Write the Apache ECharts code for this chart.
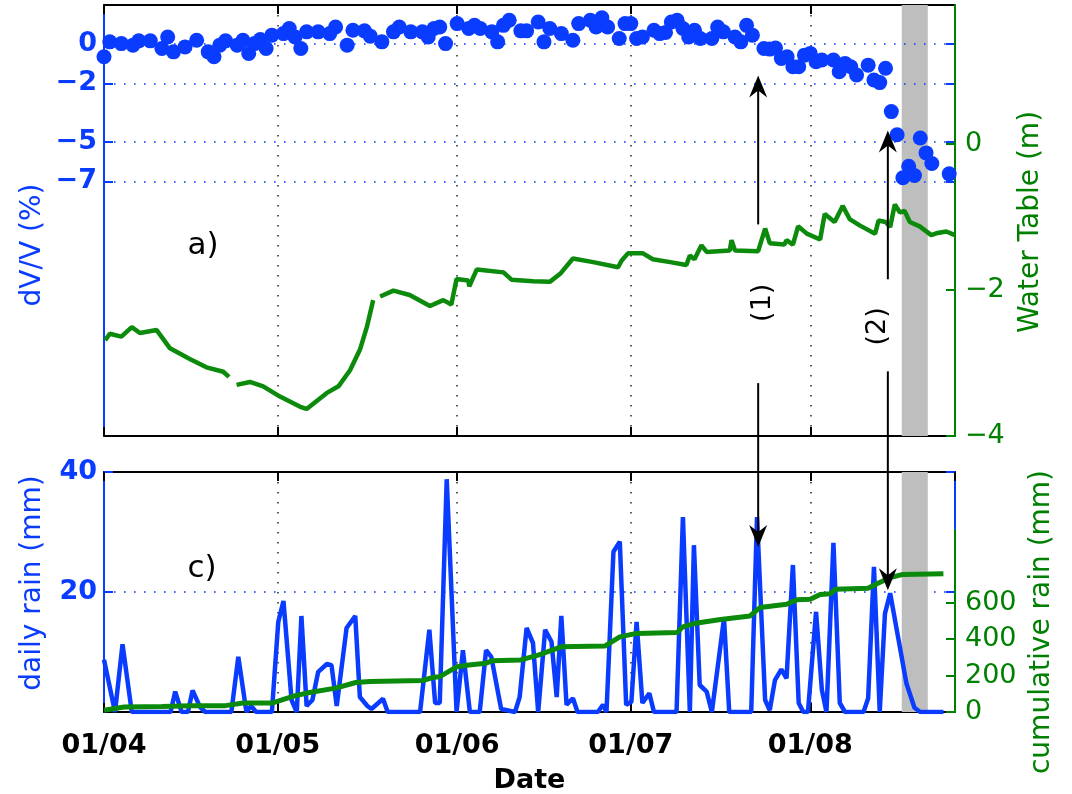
<!DOCTYPE html>
<html>
<head>
<meta charset="utf-8">
<script src="https://cdn.jsdelivr.net/npm/echarts@6/dist/echarts.min.js"></script>
<style>
  html, body { margin: 0; padding: 0; background: #fff; }
  #chart { width: 1072px; height: 794px; }
</style>
</head>
<body>
<div id="chart"></div>
<script>
// Days are counted from 1 April (day 0); the time axis runs 1 April – 26 August.
const START = Date.UTC(2013, 3, 1);
const DAY_MS = 86400000;
const X_RANGE = [0, 147];

// Axis ticks
const dvvTicks = [0, -2, -5, -7];
const dvvRange = [-20, 2];
const waterTicks = [-4, -2, 0];
const waterRange = [-4, 1.9];
const rainTicks = [20, 40];
const cumTicks = [0, 200, 400, 600];

// Grey band (days)
const bandSpan = [137.8, 142.3];

// dV/V (%) — [day, value]
const dvvPoints = [
  [0, -0.64], [1, 0.12], [3, 0.03], [5, -0.05], [6, 0.17], [8, 0.17], [10, -0.22], [11, 0.37],
  [12, -0.39], [14, -0.14], [16, 0.2], [18, -0.39], [19, -0.64], [20, -0.05], [21, 0.17],
  [23, -0.05], [24, 0.2], [25, -0.47], [26, 0.03], [27, 0.24], [28, -0.22], [29, 0.46],
  [31, 0.54], [32, 0.8], [33, 0.37], [34, -0.22], [35, 0.63], [37, 0.63], [39, 0.54], [40, 0.88],
  [42, -0.05], [43, 0.71], [45, 0.68], [46, 0.41], [48, 0.12], [50, 0.63], [51, 0.88], [53, 0.63],
  [55, 0.63], [56, 0.37], [57, 0.8], [58, 0.88], [59, 0.03], [61, 1.05], [63, 0.8], [64, 0.96],
  [65, 0.8], [67, 0.63], [68, 0.12], [69, 0.96], [70, 1.22], [72, 0.68], [73, 0.68], [75, 1.13],
  [76, 0.12], [77, 0.8], [79, 0.54], [81, 0.2], [82, 1.05], [84, 1.22], [85, 0.88], [86, 1.35],
  [87, 0.88], [89, 0.29], [90, 1.05], [91, 1.05], [92, 0.29], [93, 0.37], [95, 0.71], [96, 0.54],
  [97, 0.6], [98, 1.13], [99, 1.22], [100, 0.8], [101, 0.37], [102, 0.71], [103, 0.29], [105, 0.29],
  [106, 0.88], [107, 0.63], [109, 0.37], [110, 0.12], [111, 0.96], [112, 0.46], [114, -0.22],
  [115, -0.25], [116, -0.2], [117, -0.73], [118, -0.64], [119, -1.15], [120, -1.15], [121, -0.56],
  [122, -0.47], [123, -0.9], [124, -0.81], [126, -0.81], [127, -1.41], [128, -0.98], [129, -1.15],
  [130, -1.57], [132, -1.07], [133, -1.83], [134, -1.96], [135, -1.23], [136, -3.44], [137, -4.62],
  [138, -6.82], [139, -6.23], [140, -6.7], [141, -4.79], [142, -5.55], [143, -6.09], [146, -6.62]
];

// Water table (m) — [day, value]; null marks a gap in the record
const waterPoints = [
  [0.2, -2.69], [1, -2.6], [3, -2.64], [4.8, -2.51], [6.2, -2.59], [9.1, -2.55], [11.4, -2.8],
  [14.9, -2.95], [17.7, -3.06], [20.6, -3.12], [21.6, -3.19], [22.2, null], [22.9, -3.3],
  [25.2, -3.26], [27.5, -3.32], [30.4, -3.46], [33.9, -3.6], [35, -3.63], [38.5, -3.41],
  [40.5, -3.32], [42.5, -3.1], [44.2, -2.82], [45.4, -2.51], [46.5, -2.14], [47.1, null],
  [47.7, -2.09], [50, -2.01], [52.8, -2.07], [56.3, -2.22], [58.6, -2.14], [60, -2.2],
  [60.9, -1.85], [62.9, -1.87], [63.1, -1.95], [64.4, -1.72], [69, -1.76], [70.4, -1.86],
  [74.1, -1.88], [77, -1.89], [78.8, -1.78], [81, -1.57], [84.5, -1.62], [88.8, -1.69],
  [89.4, -1.6], [90.5, -1.5], [93.1, -1.5], [94.8, -1.58], [97.8, -1.62], [100.6, -1.66],
  [101.2, -1.53], [102, -1.58], [103.2, -1.39], [104.1, -1.48], [108.1, -1.46], [108.4, -1.32],
  [109, -1.46], [113, -1.47], [114.2, -1.16], [115, -1.36], [117.5, -1.38], [117.9, -1.32],
  [119, -1.38], [119.9, -1.13], [121.4, -1.23], [123.7, -1.31], [124.5, -0.96], [126.2, -1.07],
  [127.6, -0.85], [128.8, -1.03], [130.6, -1.12], [133.2, -1.23], [133.8, -1.05], [135, -1.07],
  [135.8, -1.14], [136.6, -0.83], [137.5, -0.94], [138.3, -0.92], [139.2, -1.07], [140.9, -1.13],
  [142.9, -1.25], [144, -1.22], [145.5, -1.2], [147, -1.25]
];

// Daily rain (mm) — [day, value]
const rainPoints = [
  [0, 8.7], [1.9, 0], [3.2, 11.3], [4.8, 0], [11.5, 0], [12.3, 3.4], [13.4, 0], [14.5, 0],
  [15.3, 3.6], [16.6, 0.8], [17.5, 0], [22, 0], [23.2, 9.2], [24.6, 0], [25.4, 1], [26.3, 0],
  [29, 0], [30.1, 15], [31, 18.5], [32.4, 2], [33.3, 0], [34.1, 16], [35, 1], [36, 2], [37, 6.7],
  [38.5, 8], [39.3, 7.8], [40.2, 1], [41.9, 14], [43.4, 16], [44.2, 2.5], [45.5, 1], [46.2, 0.5],
  [48.2, 2.2], [49, 0], [54.6, 0], [56.2, 13.7], [57.2, 1.5], [58, 1.5], [59.2, 38.8], [60.9, 0],
  [62, 10.3], [63.2, 0], [64.9, 0], [66, 10.3], [66.9, 9.2], [68.6, 0.5], [71, 0], [71.8, 2.5],
  [73, 14], [74.1, 11.5], [75, 0], [76.2, 13.7], [77.3, 11.7], [78.2, 2.5], [79, 16], [79.9, 1.2],
  [81, 2.3], [81.8, 0], [85.3, 0], [86.2, 1.2], [86.8, 0], [88, 26.7], [89.1, 28.4], [90.2, 1.2],
  [91.1, 1.7], [92, 15], [93, 1.5], [94.2, 3.1], [95, 0], [98.9, 0], [100, 32.5], [101.2, 0],
  [101.9, 27.8], [102.9, 4.5], [104.1, 3.4], [105, 0], [107.1, 15.6], [108, 0], [111.8, 0],
  [112.8, 32.5], [114.2, 2], [115, 0.3], [115.9, 5.3], [117, 7.1], [117.9, 5.6], [119, 24.5],
  [120, 1.5], [120.8, 0], [121.6, 0], [123, 16.7], [124, 3.7], [124.8, 0], [126, 28.2],
  [127.1, 1.5], [128, 0], [131.2, 0], [132, 2.3], [133, 24.2], [134, 0], [134.9, 16.4],
  [135.8, 19.8], [137.2, 12.3], [138.6, 4.8], [140, 0.7], [141, 0], [145, 0]
];

// Cumulative rain (mm) — [day, value]
const cumPoints = [
  [0, 10], [3.5, 27], [10, 30], [15, 34], [21, 35], [24, 49], [29, 49], [32.5, 85], [35, 104],
  [40, 131], [43.5, 162], [46, 167], [55, 173], [57, 191], [58, 194], [61, 249], [63, 258],
  [66, 268], [67, 282], [72, 286], [75, 313], [79, 358], [86.5, 362], [89.1, 413], [92, 432],
  [99, 437], [100, 468], [101.9, 486], [106.5, 508], [111.6, 528], [113.3, 574], [117.9, 592],
  [119.7, 617], [122, 619], [123.7, 645], [125.5, 650], [126.3, 674], [132, 680], [133.5, 705],
  [135.8, 738], [138, 756], [145, 760]
];

// Annotated events: arrow day, upper arrow (dV/V from → tip), lower arrow (dV/V start → rain tip)
const arrowDays = [113, 135.4];
const arrowLabels = ['(1)', '(2)'];
const arrowLabelDays = [113.9, 133.7];
const arrowLabelDvv = [-13.2, -14.4];
const arrowUp = [[-9.2, -1.6], [-12.0, -4.4]];
const arrowDown = [[-17.3, 27.5], [-16.7, 20.3]];

const BLUE = '#0a3cff';
const GREEN = '#008000';
const LINE_GREEN = '#0b8a0b';
const FONT = 'DejaVu Sans';

const toTime = d => START + d * DAY_MS;
const toSeries = pts => pts.map(p => [toTime(p[0]), p[1] === null ? '-' : p[1]]);
const minus = v => String(v).replace('-', '\u2212');
const pad = n => (n < 10 ? '0' : '') + n;

const GRID_LEFT = 104, GRID_RIGHT = 117;

function timeAxis(gridIndex, position, extra) {
  return Object.assign({
    type: 'time', gridIndex: gridIndex, position: position,
    min: toTime(X_RANGE[0]), max: toTime(X_RANGE[1]), splitNumber: 5,
    axisLine: { show: true, onZero: false, lineStyle: { color: '#000', width: 2 } },
    axisTick: { show: true, inside: true, length: 9, lineStyle: { color: '#000', width: 2 } },
    axisLabel: { show: false },
    splitLine: { show: false }
  }, extra || {});
}

const dottedV = { show: true, lineStyle: { color: '#333', width: 1.6, type: [1.6, 8.4] } };

const chart = echarts.init(document.getElementById('chart'), null, { renderer: 'canvas' });

const gridBase = { left: GRID_LEFT, right: GRID_RIGHT, containLabel: false, outerBoundsMode: 'none' };

chart.setOption({
  animation: false,
  useUTC: true,
  backgroundColor: '#fff',
  grid: [
    Object.assign({ top: 5, height: 431 }, gridBase),
    Object.assign({ top: 472, height: 240 }, gridBase),
    Object.assign({ top: 530, height: 182 }, gridBase)
  ],
  xAxis: [
    timeAxis(0, 'bottom', { splitLine: dottedV }),
    timeAxis(0, 'top'),
    timeAxis(1, 'bottom', {
      splitLine: dottedV,
      axisLabel: {
        show: true, margin: 20, color: '#000', fontFamily: FONT, fontWeight: 'bold', fontSize: 27,
        formatter: v => { const d = new Date(v); return pad(d.getUTCDate()) + '/' + pad(d.getUTCMonth() + 1); }
      },
      name: 'Date', nameLocation: 'middle', nameGap: 55,
      nameTextStyle: { color: '#000', fontFamily: FONT, fontWeight: 'bold', fontSize: 27 }
    }),
    timeAxis(1, 'top'),
    timeAxis(2, 'bottom', { show: false })
  ],
  yAxis: [
    { // dV/V, left
      type: 'value', gridIndex: 0, position: 'left', min: dvvRange[0], max: dvvRange[1],
      axisLine: { show: true, lineStyle: { color: BLUE, width: 2 } },
      axisTick: { show: true, inside: true, length: 9, customValues: dvvTicks, lineStyle: { color: BLUE, width: 2 } },
      axisLabel: { customValues: dvvTicks, margin: 7, color: BLUE, fontFamily: FONT, fontWeight: 'bold', fontSize: 27, formatter: minus },
      splitLine: { show: false }
    },
    { // water table, right
      type: 'value', gridIndex: 0, position: 'right', min: waterRange[0], max: waterRange[1],
      axisLine: { show: true, lineStyle: { color: GREEN, width: 2 } },
      axisTick: { show: true, inside: true, length: 9, customValues: waterTicks, lineStyle: { color: GREEN, width: 2 } },
      axisLabel: { customValues: waterTicks, margin: 10, color: GREEN, fontFamily: FONT, fontSize: 27, formatter: minus },
      splitLine: { show: false }, z: 3
    },
    { // dV/V ticks mirrored on the right
      type: 'value', gridIndex: 0, position: 'right', min: dvvRange[0], max: dvvRange[1],
      axisLine: { show: false },
      axisTick: { show: true, inside: true, length: 9, customValues: dvvTicks, lineStyle: { color: BLUE, width: 2 } },
      axisLabel: { show: false }, splitLine: { show: false }
    },
    { // daily rain, left
      type: 'value', gridIndex: 1, position: 'left', min: 0, max: 40, interval: 20,
      axisLine: { show: true, lineStyle: { color: BLUE, width: 2 } },
      axisTick: { show: true, inside: true, length: 9, customValues: rainTicks, lineStyle: { color: BLUE, width: 2 } },
      axisLabel: { customValues: rainTicks, margin: 7, color: BLUE, fontFamily: FONT, fontWeight: 'bold', fontSize: 27 },
      splitLine: { show: true, lineStyle: { color: BLUE, width: 1.6, type: [1.6, 8.4] } }
    },
    { // daily rain ticks mirrored on the right
      type: 'value', gridIndex: 1, position: 'right', min: 0, max: 40,
      axisLine: { show: true, lineStyle: { color: BLUE, width: 2 } },
      axisTick: { show: true, inside: true, length: 9, customValues: rainTicks, lineStyle: { color: BLUE, width: 2 } },
      axisLabel: { show: false }, splitLine: { show: false }
    },
    { // cumulative rain, right
      type: 'value', gridIndex: 2, position: 'right', min: 0, max: 1000,
      axisLine: { show: true, lineStyle: { color: GREEN, width: 2 } },
      axisTick: { show: true, inside: true, length: 9, customValues: cumTicks, lineStyle: { color: GREEN, width: 2 } },
      axisLabel: { customValues: cumTicks, margin: 10, color: GREEN, fontFamily: FONT, fontSize: 27 },
      splitLine: { show: false }, z: 3
    }
  ],
  series: [
    { // grey band and dotted dV/V levels, top panel
      type: 'line', xAxisIndex: 0, yAxisIndex: 0, data: [], z: 1, silent: true,
      markArea: {
        silent: true, z: 1,
        itemStyle: { color: '#bebebe', opacity: 1 },
        data: [[{ xAxis: toTime(bandSpan[0]) }, { xAxis: toTime(bandSpan[1]) }]]
      },
      markLine: {
        silent: true, z: 1, symbol: 'none', label: { show: false },
        lineStyle: { color: BLUE, width: 1.6, type: [1.6, 8.4] },
        data: dvvTicks.map(v => ({ yAxis: v }))
      }
    },
    {
      name: 'Water Table', type: 'line', xAxisIndex: 0, yAxisIndex: 1, z: 3,
      data: toSeries(waterPoints), showSymbol: false, symbol: 'none', connectNulls: false,
      lineStyle: { color: LINE_GREEN, width: 4.5 }
    },
    {
      name: 'dV/V', type: 'scatter', xAxisIndex: 0, yAxisIndex: 0, z: 4,
      data: toSeries(dvvPoints), symbolSize: 15,
      itemStyle: { color: BLUE, opacity: 1 }
    },
    { // grey band, bottom panel
      type: 'line', xAxisIndex: 2, yAxisIndex: 3, data: [], z: 1, silent: true,
      markArea: {
        silent: true, z: 1,
        itemStyle: { color: '#bebebe', opacity: 1 },
        data: [[{ xAxis: toTime(bandSpan[0]) }, { xAxis: toTime(bandSpan[1]) }]]
      }
    },
    {
      name: 'daily rain', type: 'line', xAxisIndex: 2, yAxisIndex: 3, z: 3,
      data: toSeries(rainPoints), showSymbol: false, symbol: 'none',
      lineStyle: { color: BLUE, width: 4.5 }
    },
    {
      name: 'cumulative rain', type: 'line', xAxisIndex: 4, yAxisIndex: 5, z: 4,
      data: toSeries(cumPoints), showSymbol: false, symbol: 'none',
      lineStyle: { color: LINE_GREEN, width: 5 }
    }
  ]
});

// Annotations: axis titles, panel letters and event arrows
function pxTop(day, v) { return chart.convertToPixel({ xAxisIndex: 0, yAxisIndex: 0 }, [toTime(day), v]); }
function pxRain(day, v) { return chart.convertToPixel({ xAxisIndex: 2, yAxisIndex: 3 }, [toTime(day), v]); }

function arrowHead(tip, dir) {
  // dir = -1 points up, +1 points down
  const L = 22, W = 9, N = 15;
  return {
    type: 'polygon', z: 20,
    shape: { points: [[tip[0], tip[1]], [tip[0] - W, tip[1] - dir * L], [tip[0], tip[1] - dir * N], [tip[0] + W, tip[1] - dir * L]] },
    style: { fill: '#000' }
  };
}
function segment(a, b) {
  return { type: 'line', z: 20, shape: { x1: a[0], y1: a[1], x2: b[0], y2: b[1] }, style: { stroke: '#000', lineWidth: 2 } };
}
function vText(text, x, y, color, size, weight) {
  return {
    type: 'text', z: 20, x: x, y: y, rotation: Math.PI / 2,
    style: { text: text, fill: color, font: (weight || 'normal') + ' ' + size + 'px "' + FONT + '"', align: 'center', verticalAlign: 'middle' }
  };
}

const g = [];
arrowDays.forEach((day, i) => {
  const upFrom = pxTop(day, arrowUp[i][0]);
  const upTip = pxTop(day, arrowUp[i][1]);
  g.push(segment(upFrom, [upTip[0], upTip[1] + 12]), arrowHead(upTip, -1));
  const downFrom = pxTop(day, arrowDown[i][0]);
  const downTip = pxRain(day, arrowDown[i][1]);
  g.push(segment(downFrom, [downTip[0], downTip[1] - 12]), arrowHead(downTip, 1));
  const lp = pxTop(arrowLabelDays[i], arrowLabelDvv[i]);
  g.push(vText(arrowLabels[i], lp[0], lp[1], '#000', 27));
});

g.push(
  { type: 'text', z: 20, x: 203, y: 246, style: { text: 'a)', fill: '#000', font: '31px "' + FONT + '"', align: 'center', verticalAlign: 'middle' } },
  { type: 'text', z: 20, x: 202, y: 569, style: { text: 'c)', fill: '#000', font: '31px "' + FONT + '"', align: 'center', verticalAlign: 'middle' } },
  vText('dV/V (%)', 33, 245, BLUE, 28),
  vText('daily rain (mm)', 33, 583, BLUE, 28),
  vText('Water Table (m)', 1031, 222, GREEN, 28),
  vText('cumulative rain (mm)', 1042, 622, GREEN, 28)
);

chart.setOption({ graphic: g });
</script>
</body>
</html>
